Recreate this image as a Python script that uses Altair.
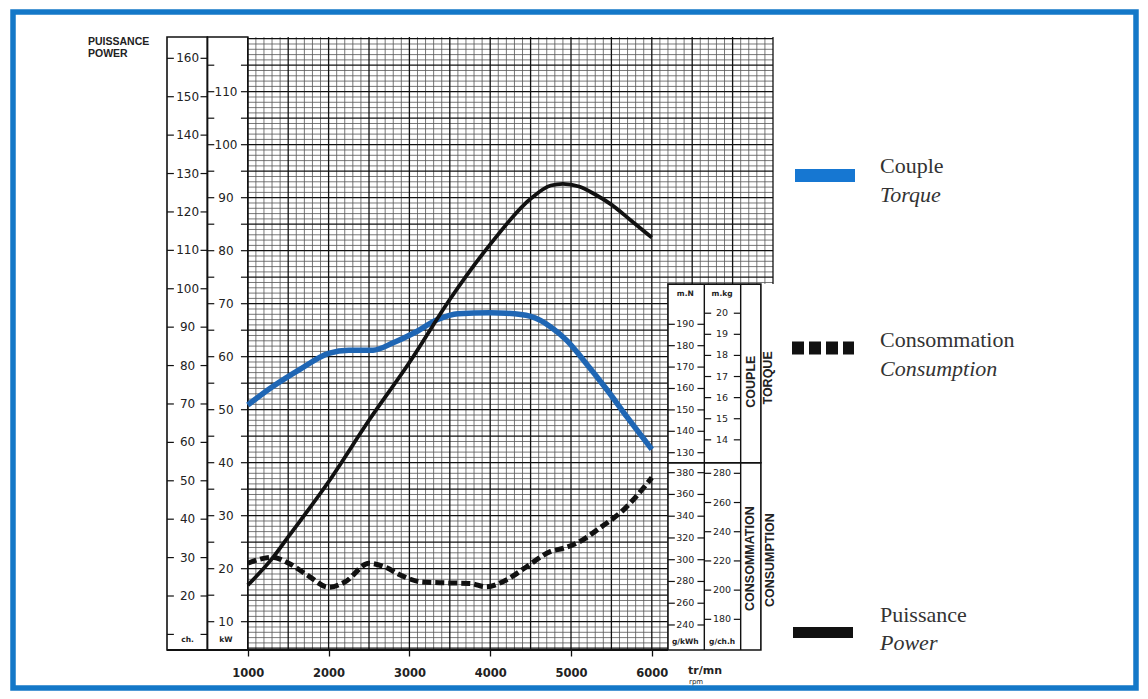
import altair as alt
import pandas as pd

# ---------------- values ----------------
power_rpm = [1000, 1300, 1500, 2000, 2500, 3000, 3500, 4000, 4500, 4750, 4900, 5100, 5300, 5500, 5750, 6000]
power_kw = [16.9, 21.9, 26.0, 36.4, 48.0, 58.9, 70.8, 81.2, 89.8, 92.3, 92.6, 92.1, 90.6, 88.7, 85.6, 82.5]

torque_rpm = [1000, 1300, 1650, 2000, 2250, 2550, 2800, 3050, 3350, 3600, 4000, 4200, 4500, 4750, 4950, 5150, 5450, 5700, 6000]
torque_mkg = [15.65, 16.5, 17.35, 18.1, 18.25, 18.25, 18.6, 19.05, 19.7, 19.98, 20.02, 20.0, 19.85, 19.35, 18.7, 17.8, 16.35, 15.05, 13.55]

cons_rpm = [1000, 1300, 1500, 1750, 2000, 2200, 2500, 2700, 2900, 3150, 3450, 3750, 3950, 4200, 4450, 4750, 4900, 5100, 5350, 5650, 6000]
cons_gch = [218.4, 222.5, 218.6, 209.8, 202.0, 205.5, 218.4, 215.8, 210.0, 205.6, 205.0, 204.6, 202.3, 207.0, 216.0, 226.5, 228.6, 233.0, 242.3, 255.0, 277.0]

x_tick_labels = [1000, 2000, 3000, 4000, 5000, 6000]
ch_labels = list(range(20, 161, 10))
ch_ticks = list(range(10, 161, 10))
kw_labels = list(range(10, 111, 10))
kw_ticks = list(range(10, 116, 5))
mn_labels = list(range(130, 191, 10))
mkg_labels = list(range(14, 21))
gkwh_labels = list(range(240, 381, 20))
gchh_labels = list(range(180, 281, 20))

grid_rpm = list(range(1000, 7501, 100))
grid_kw = list(range(5, 121))

# ---------------- layout ----------------
W, H = 606, 613
X_DOM = [0, 7500]
KW_DOM = [4.66, 120.32]
CH_DOM = [5.94, 165.55]
MKG_DOM = [4.04, 33.09]
MN_DOM = [37.8, 324.25]
GCH_DOM = [159.0, 578.8]
GKW_DOM = [217.0, 780.5]

PANEL_L, PANEL_M, PANEL_R2, PANEL_R = 6200, 6650, 7100, 7350
PANEL_TOP, PANEL_SPLIT = 73.7, 40.0
TL = 85  # tick length in rpm units

FONT = "DejaVu Sans"
SERIF = "Liberation Serif"

xs = alt.Scale(domain=X_DOM, nice=False, zero=False)
x_axis = alt.Axis(values=x_tick_labels, format="d", grid=False, domain=False,
                  ticks=True, tickSize=6, tickColor="#111", tickWidth=1.3,
                  labelFont=FONT, labelFontSize=11.5, labelFontWeight="bold",
                  labelColor="#222", labelPadding=11, title=None)


def xenc(f):
    return alt.X(f + ":Q", scale=xs, axis=x_axis)


def yenc(f, dom):
    return alt.Y(f + ":Q", scale=alt.Scale(domain=dom, nice=False, zero=False), axis=None)


layers = []

# frame
layers.append(alt.Chart(pd.DataFrame({"a": [0]})).mark_rect(
    fillOpacity=0, stroke="#1478c8", strokeWidth=5.5).encode(
    x=alt.value(-154), x2=alt.value(969), y=alt.value(-25), y2=alt.value(651)))

# grid
vf = pd.DataFrame({"rpm": [r for r in grid_rpm if r % 500]})
vb = pd.DataFrame({"rpm": [r for r in grid_rpm if r % 500 == 0]})
hf = pd.DataFrame({"kw": [k for k in grid_kw if k % 5], "a": 1000, "b": 7500})
hb = pd.DataFrame({"kw": [k for k in grid_kw if k % 5 == 0], "a": 1000, "b": 7500})
layers.append(alt.Chart(vf).mark_rule(color="#555", strokeWidth=0.8).encode(x=xenc("rpm")))
layers.append(alt.Chart(hf).mark_rule(color="#555", strokeWidth=0.8).encode(
    x=xenc("a"), x2="b:Q", y=yenc("kw", KW_DOM)))
layers.append(alt.Chart(vb).mark_rule(color="#111", strokeWidth=1.3).encode(x=xenc("rpm")))
layers.append(alt.Chart(hb).mark_rule(color="#111", strokeWidth=1.3).encode(
    x=xenc("a"), x2="b:Q", y=yenc("kw", KW_DOM)))

# white panel background on the right
pw = pd.DataFrame({"a": [PANEL_L], "b": [7620], "y1": [KW_DOM[0]], "y2": [PANEL_TOP]})
layers.append(alt.Chart(pw).mark_rect(color="white").encode(
    x=xenc("a"), x2="b:Q", y=yenc("y1", KW_DOM), y2="y2:Q"))

# box outlines
boxes = pd.DataFrame({
    "a": [0, 500, PANEL_L, PANEL_L],
    "b": [500, 1000, PANEL_R, PANEL_R],
    "y1": [KW_DOM[0], KW_DOM[0], PANEL_SPLIT, KW_DOM[0]],
    "y2": [KW_DOM[1], KW_DOM[1], PANEL_TOP, PANEL_SPLIT],
})
layers.append(alt.Chart(boxes).mark_rect(fillOpacity=0, stroke="#111", strokeWidth=1.6).encode(
    x=xenc("a"), x2="b:Q", y=yenc("y1", KW_DOM), y2="y2:Q"))
div = pd.DataFrame({"rpm": [PANEL_M, PANEL_R2], "y1": KW_DOM[0], "y2": PANEL_TOP})
layers.append(alt.Chart(div).mark_rule(color="#111", strokeWidth=1.4).encode(
    x=xenc("rpm"), y=yenc("y1", KW_DOM), y2="y2:Q"))
bot = pd.DataFrame({"a": [0], "b": [PANEL_L], "y": [KW_DOM[0]]})
layers.append(alt.Chart(bot).mark_rule(color="#111", strokeWidth=2).encode(
    x=xenc("a"), x2="b:Q", y=yenc("y", KW_DOM)))


def tick_layer(values, dom, left, right):
    rows = []
    for v in values:
        rows.append({"v": v, "a": left, "b": left + TL})
        rows.append({"v": v, "a": right - TL, "b": right})
    return alt.Chart(pd.DataFrame(rows)).mark_rule(color="#111", strokeWidth=1.2).encode(
        x=xenc("a"), x2="b:Q", y=yenc("v", dom))


def label_layer(values, dom, xc, size):
    df = pd.DataFrame({"v": values, "x": xc})
    return alt.Chart(df).mark_text(font=FONT, fontSize=size, color="#222",
                                   align="center", baseline="middle").encode(
        x=xenc("x"), y=yenc("v", dom), text=alt.Text("v:Q", format="d"))


layers += [
    tick_layer(ch_ticks, CH_DOM, 0, 500), label_layer(ch_labels, CH_DOM, 255, 12),
    tick_layer(kw_ticks, KW_DOM, 500, 1000), label_layer(kw_labels, KW_DOM, 730, 12),
    tick_layer(mn_labels, MN_DOM, PANEL_L, PANEL_M), label_layer(mn_labels, MN_DOM, 6415, 9.5),
    tick_layer(mkg_labels, MKG_DOM, PANEL_M, PANEL_R2), label_layer(mkg_labels, MKG_DOM, 6870, 9.5),
    tick_layer(gkwh_labels, GKW_DOM, PANEL_L, PANEL_M), label_layer(gkwh_labels, GKW_DOM, 6415, 9.5),
    tick_layer(gchh_labels, GCH_DOM, PANEL_M, PANEL_R2), label_layer(gchh_labels, GCH_DOM, 6870, 9.5),
]

# unit labels
units = pd.DataFrame({
    "t": ["ch.", "kW", "m.N", "m.kg", "g/kWh", "g/ch.h"],
    "x": [255, 730, 6415, 6870, 6415, 6870],
    "y": [6.5, 6.5, 71.8, 71.8, 6.2, 6.2],
})
layers.append(alt.Chart(units).mark_text(font=FONT, fontSize=7.5, fontWeight="bold", color="#222",
                                         baseline="middle").encode(
    x=xenc("x"), y=yenc("y", KW_DOM), text="t:N"))

# rotated panel titles
rot = pd.DataFrame({
    "t": ["COUPLE", "TORQUE", "CONSOMMATION", "CONSUMPTION"],
    "x": [7230, 7440, 7215, 7465],
    "y": [55.3, 56.0, 21.9, 21.6],
})
layers.append(alt.Chart(rot).mark_text(font="Liberation Sans", fontSize=12.5, fontWeight="bold",
                                       color="#222", angle=270, baseline="middle").encode(
    x=xenc("x"), y=yenc("y", KW_DOM), text="t:N"))

# curves
layers.append(alt.Chart(pd.DataFrame({"rpm": cons_rpm, "g": cons_gch})).mark_line(
    color="#111", strokeWidth=5, strokeDash=[9, 4], interpolate="monotone").encode(
    x=xenc("rpm"), y=yenc("g", GCH_DOM)))
layers.append(alt.Chart(pd.DataFrame({"rpm": torque_rpm, "m": torque_mkg})).mark_line(
    color="#1f66b4", strokeWidth=5.5, interpolate="monotone").encode(
    x=xenc("rpm"), y=yenc("m", MKG_DOM)))
layers.append(alt.Chart(pd.DataFrame({"rpm": power_rpm, "kw": power_kw})).mark_line(
    color="#111", strokeWidth=3.8, interpolate="monotone").encode(
    x=xenc("rpm"), y=yenc("kw", KW_DOM)))


def txt(t, x, y, **kw):
    base = dict(font=FONT, fontSize=11, color="#222", align="left", baseline="middle")
    base.update(kw)
    return alt.Chart(pd.DataFrame({"t": [t]})).mark_text(**base).encode(
        x=alt.value(x), y=alt.value(y), text="t:N")


# top-left title and x unit
layers += [
    txt("PUISSANCE", -79, 5, fontWeight="bold", fontSize=10.5, font="Liberation Sans"),
    txt("POWER", -79, 17, fontWeight="bold", fontSize=10.5, font="Liberation Sans"),
    txt("tr/mn", 521, 634, fontWeight="bold", fontSize=11),
    txt("rpm", 522, 645, fontSize=7),
]

# legend
layers.append(alt.Chart(pd.DataFrame({"a": [0]})).mark_rect(color="#1677d2").encode(
    x=alt.value(628), x2=alt.value(688), y=alt.value(132), y2=alt.value(145)))
layers.append(alt.Chart(pd.DataFrame({"a": [0]})).mark_rule(
    color="#111", strokeWidth=13, strokeDash=[12, 5]).encode(
    x=alt.value(625), x2=alt.value(687), y=alt.value(311)))
layers.append(alt.Chart(pd.DataFrame({"a": [0]})).mark_rect(color="#111").encode(
    x=alt.value(626), x2=alt.value(686), y=alt.value(590), y2=alt.value(601)))
layers += [
    txt("Couple", 713, 136, font=SERIF, fontSize=22, baseline="alphabetic", color="#333"),
    txt("Torque", 713, 165, font=SERIF, fontSize=22, baseline="alphabetic", fontStyle="italic", color="#333"),
    txt("Consommation", 713, 310, font=SERIF, fontSize=22, baseline="alphabetic", color="#333"),
    txt("Consumption", 713, 339, font=SERIF, fontSize=22, baseline="alphabetic", fontStyle="italic", color="#333"),
    txt("Puissance", 713, 585, font=SERIF, fontSize=22, baseline="alphabetic", color="#333"),
    txt("Power", 713, 613, font=SERIF, fontSize=22, baseline="alphabetic", fontStyle="italic", color="#333"),
]

chart = alt.layer(*layers).resolve_scale(y="independent").properties(
    width=W, height=H,
    autosize=alt.AutoSizeParams(type="none"),
    padding={"left": 159, "top": 29, "right": 367, "bottom": 41},
    background="white",
).configure_view(strokeWidth=0)

chart.save("out.html", embed_options={"renderer": "svg", "actions": False})
